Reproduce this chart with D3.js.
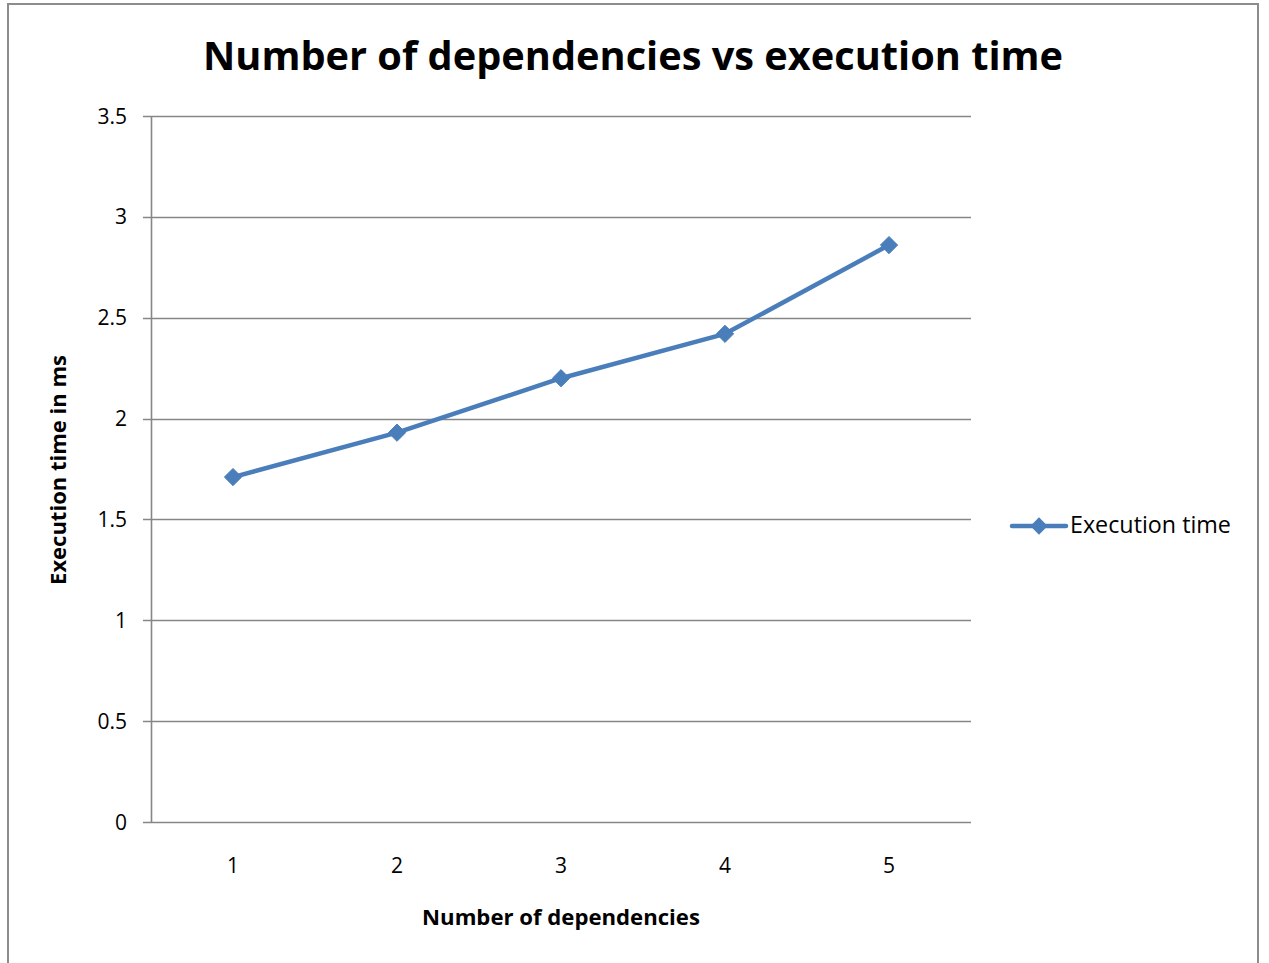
<!DOCTYPE html>
<html>
<head>
<meta charset="utf-8">
<script src="https://cdn.jsdelivr.net/npm/d3@7"></script>
<style>
  html, body { margin: 0; padding: 0; background: #fff; }
  svg { display: block; }
  text { font-family: "Open Sans", "Noto Sans", sans-serif; fill: #000; }
</style>
</head>
<body>
<svg id="chart" width="1269" height="963"></svg>
<script>
// Chart data
const categories = ["1", "2", "3", "4", "5"];
const executionTime = [1.71, 1.93, 2.20, 2.42, 2.86];
const yTicks = [0, 0.5, 1, 1.5, 2, 2.5, 3, 3.5];
const seriesName = "Execution time";
const titleText = "Number of dependencies vs execution time";
const xTitleText = "Number of dependencies";
const yTitleText = "Execution time in ms";

const svg = d3.select("#chart");
const W = 1269, H = 963;
const plot = { left: 151, right: 971, top: 116, bottom: 822 };
const gridColor = "#868686";
const lineColor = "#4a7ebb";

// Outer chart frame (open at the bottom edge)
svg.append("path")
  .attr("d", `M8,${H + 2} L8,4 L1258,4 L1258,${H + 2}`)
  .attr("fill", "none")
  .attr("stroke", "#8c8c8c")
  .attr("stroke-width", 2);

const x = d3.scaleBand().domain(categories).range([plot.left, plot.right]);
const y = d3.scaleLinear().domain([0, 3.5]).range([plot.bottom, plot.top]);

// Fit a text element to a target width by adjusting font size
function fitWidth(sel, target) {
  const n = sel.node();
  const fs = parseFloat(sel.attr("font-size"));
  const w = n.getComputedTextLength();
  sel.attr("font-size", (fs * target / w).toFixed(2));
}

// Horizontal gridlines with short tick stubs to the left
const grid = svg.append("g");
grid.selectAll("line")
  .data(yTicks)
  .join("line")
  .attr("x1", plot.left - 8)
  .attr("x2", plot.right)
  .attr("y1", d => Math.round(y(d)) + 0.5)
  .attr("y2", d => Math.round(y(d)) + 0.5)
  .attr("stroke", gridColor)
  .attr("stroke-width", 1.6);

// Vertical value axis line
svg.append("line")
  .attr("x1", plot.left + 0.5).attr("x2", plot.left + 0.5)
  .attr("y1", plot.top).attr("y2", plot.bottom)
  .attr("stroke", gridColor).attr("stroke-width", 1.6);

// Y tick labels
svg.append("g").selectAll("text")
  .data(yTicks)
  .join("text")
  .attr("x", 127)
  .attr("y", d => y(d) + 7.5)
  .attr("text-anchor", "end")
  .attr("font-size", 21)
  .text(d => d);

// X tick labels
svg.append("g").selectAll("text")
  .data(categories)
  .join("text")
  .attr("x", d => x(d) + x.bandwidth() / 2)
  .attr("y", 873)
  .attr("text-anchor", "middle")
  .attr("font-size", 21)
  .text(d => d);

// Series line
const line = d3.line()
  .x((d, i) => x(categories[i]) + x.bandwidth() / 2)
  .y(d => y(d));

svg.append("path")
  .datum(executionTime)
  .attr("d", line)
  .attr("fill", "none")
  .attr("stroke", lineColor)
  .attr("stroke-width", 4.5)
  .attr("stroke-linejoin", "round");

// Diamond markers
const diamond = d3.symbol().type(d3.symbolDiamond2).size(190);
svg.append("g").selectAll("path")
  .data(executionTime)
  .join("path")
  .attr("transform", (d, i) => `translate(${x(categories[i]) + x.bandwidth() / 2},${y(d)})`)
  .attr("d", diamond)
  .attr("fill", lineColor)
  .attr("stroke", lineColor)
  .attr("stroke-width", 1);

// Title
const title = svg.append("text")
  .attr("x", 633)
  .attr("y", 70)
  .attr("text-anchor", "middle")
  .attr("font-weight", "bold")
  .attr("font-size", 36)
  .text(titleText);
fitWidth(title, 860);

// Axis titles
const xTitle = svg.append("text")
  .attr("x", 561)
  .attr("y", 925)
  .attr("text-anchor", "middle")
  .attr("font-weight", "bold")
  .attr("font-size", 19)
  .text(xTitleText);
fitWidth(xTitle, 278);

const yTitle = svg.append("text")
  .attr("transform", "translate(66,470) rotate(-90)")
  .attr("text-anchor", "middle")
  .attr("font-weight", "bold")
  .attr("font-size", 19)
  .text(yTitleText);
fitWidth(yTitle, 230);

// Legend
const legend = svg.append("g").attr("transform", "translate(1012,526)");
legend.append("line")
  .attr("x1", 0).attr("x2", 54)
  .attr("y1", 0).attr("y2", 0)
  .attr("stroke", lineColor).attr("stroke-width", 4.5)
  .attr("stroke-linecap", "round");
legend.append("path")
  .attr("transform", "translate(27,0)")
  .attr("d", diamond)
  .attr("fill", lineColor);
const legText = legend.append("text")
  .attr("x", 58)
  .attr("y", 7)
  .attr("font-size", 20)
  .text(seriesName);
fitWidth(legText, 161);
</script>
</body>
</html>
